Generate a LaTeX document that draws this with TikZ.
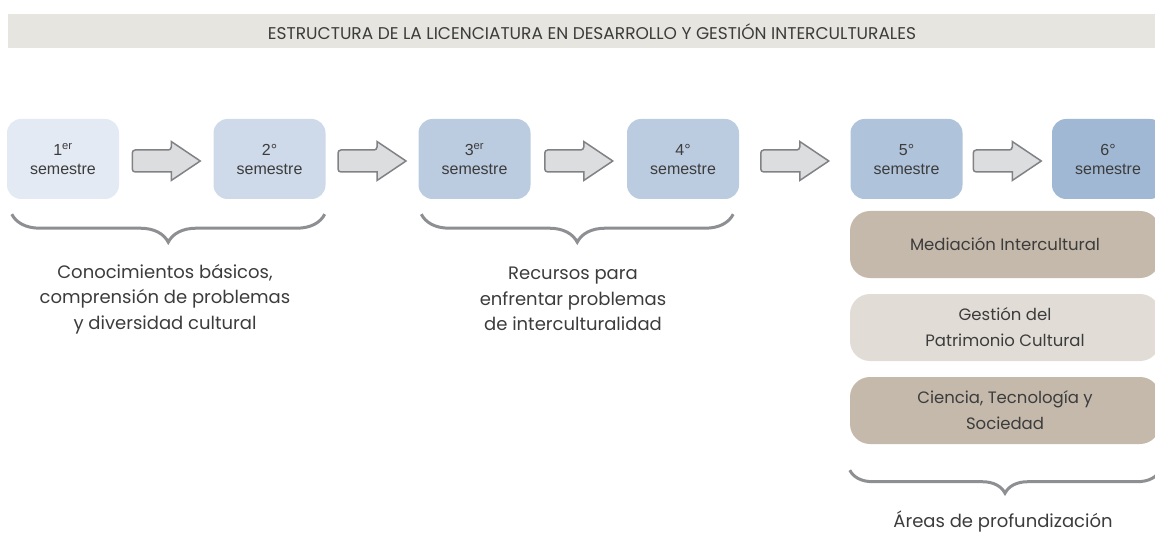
\documentclass[tikz,border=0pt]{standalone}
\usepackage{fontspec}
\setmainfont{Poppins}
\newfontfamily\boxfont{Liberation Sans}
\usetikzlibrary{calc, decorations.pathreplacing}

\definecolor{bannergray}{HTML}{E6E5DF}
\definecolor{semA}{HTML}{E3EAF3}
\definecolor{semB}{HTML}{CEDAE9}
\definecolor{semC}{HTML}{BBCCE0}
\definecolor{semD}{HTML}{AFC3DB}
\definecolor{semE}{HTML}{A0B8D3}
\definecolor{areaDark}{HTML}{C4B9AB}
\definecolor{areaLight}{HTML}{E1DDD6}
\definecolor{arrowfill}{HTML}{DCDDDF}
\definecolor{arrowline}{HTML}{808285}
\definecolor{bracegray}{HTML}{8D8F92}
\definecolor{textgray}{HTML}{3C3C3C}

\tikzset{
  semestre/.style={rounded corners=14pt, minimum width=112pt, minimum height=80pt,
    inner sep=0pt, align=center, font=\boxfont\fontsize{16}{19}\selectfont, text=textgray},
  area/.style={rounded corners=20pt, minimum width=310pt, minimum height=67pt,
    inner sep=0pt, align=center, font=\fontsize{16.5}{26}\selectfont, text=textgray},
  bloque/.style={fill=arrowfill, draw=arrowline, line width=1.5pt},
  llave/.style={draw=bracegray, line width=3pt, decorate,
    decoration={brace, mirror, amplitude=#1}},
  llave/.default=28pt,
  leyenda/.style={align=center, font=\fontsize{18}{25.5}\selectfont, text=textgray},
}

% flecha de bloque entre dos semestres
\newcommand{\flecha}[2]{%
  \coordinate (m) at ($(#1.east)!0.5!(#2.west)+(0,2)$);
  \draw[bloque] ($(m)+(-34,0)$) [rounded corners=3pt] -- ++(0,-11) -- ++(39,0)
    [sharp corners] -- ++(0,-8.5) -- ($(m)+(34,0)$) -- ($(m)+(5,19.5)$) -- ++(0,-8.5)
    [rounded corners=3pt] -- ($(m)+(-34,11)$) -- cycle;
}

\begin{document}
\begin{tikzpicture}[x=1pt, y=-1pt]
  \useasboundingbox (0,0) rectangle (1155,537);
  \clip (0,0) rectangle (1155,537);

  % Titulo
  \fill[bannergray] (8,14) rectangle (1160,48);
  \node[text=textgray, font=\fontsize{17}{20}\selectfont] (titulo) at (592,32)
    {ESTRUCTURA DE LA LICENCIATURA EN DESARROLLO Y GESTIÓN INTERCULTURALES};

  % Semestres
  \node[semestre, fill=semA] (s1) at (63,159) {1\textsuperscript{er}\\semestre};
  \node[semestre, fill=semB] (s2) at (269.5,159) {2°\\semestre};
  \node[semestre, fill=semC] (s3) at (474.5,159) {3\textsuperscript{er}\\semestre};
  \node[semestre, fill=semC] (s4) at (683,159) {4°\\semestre};
  \node[semestre, fill=semD] (s5) at (906.5,159) {5°\\semestre};
  \node[semestre, fill=semE] (s6) at (1108,159) {6°\\semestre};

  \flecha{s1}{s2}
  \flecha{s2}{s3}
  \flecha{s3}{s4}
  \flecha{s4}{s5}
  \flecha{s5}{s6}

  % Areas de profundizacion
  \node[area, fill=areaDark] (a1) at (1005,244.5) {Mediación Intercultural};
  \node[area, fill=areaLight] (a2) at (1005,327.5) {Gestión del\\Patrimonio Cultural};
  \node[area, fill=areaDark] (a3) at (1005,410.5) {Ciencia, Tecnología y\\Sociedad};

  % Llaves
  \draw[llave] ($(s1.south west)+(5,15)$) -- ($(s2.south east)+(-1,15)$);
  \draw[llave] ($(s3.south west)+(3,15)$) -- ($(s4.south east)+(-6,15)$);
  \draw[llave=23pt] ($(a3.south west)+(0,26)$) -- ($(a3.south east)+(0,26)$);

  % Leyendas
  \node[leyenda] (t1) at (165,299) {Conocimientos básicos,\\comprensión de problemas\\y diversidad cultural};
  \node[leyenda] (t2) at (573,299) {Recursos para\\enfrentar problemas\\de interculturalidad};
  \node[leyenda] (t3) at (1003,521) {Áreas de profundización};
\end{tikzpicture}
\end{document}
